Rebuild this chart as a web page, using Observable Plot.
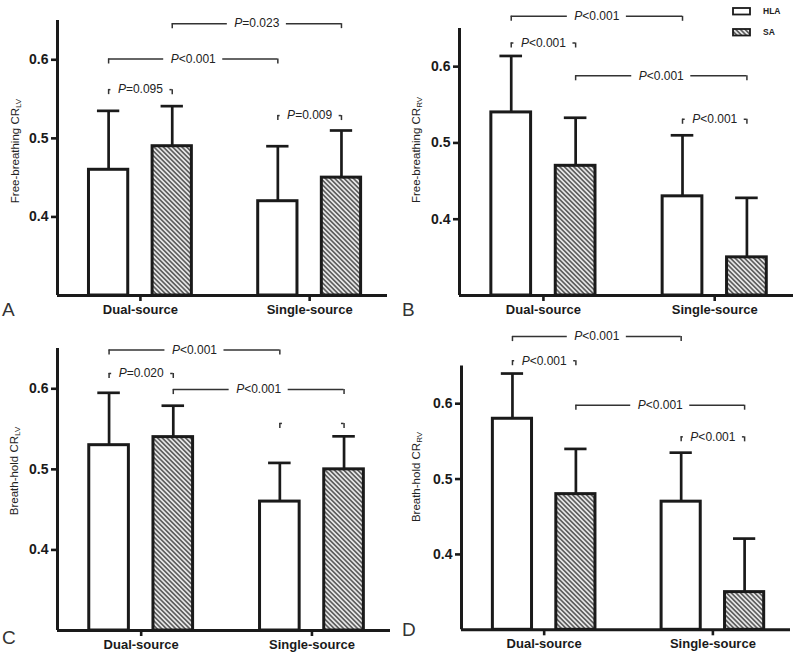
<!DOCTYPE html>
<html>
<head>
<meta charset="utf-8">
<script src="https://cdn.jsdelivr.net/npm/d3@7"></script>
<script src="https://cdn.jsdelivr.net/npm/@observablehq/plot@0.6"></script>
<style>
  html, body { margin: 0; padding: 0; background: #fff; }
  body { font-family: "Liberation Sans", Arial, sans-serif; }
  #root { position: relative; width: 800px; height: 654px; overflow: hidden; background: #fff; }
  .panel { position: absolute; }
  .panel svg { overflow: visible; }
  .ylab { position: absolute; white-space: nowrap; font-size: 11.5px; color: #222; line-height: 1;
          transform: translate(-50%, -50%) rotate(-90deg); }
  .ylab sub { font-size: 8px; vertical-align: -2px; line-height: 0; }
  .letter { position: absolute; font-size: 19px; line-height: 1; color: #333; }
  .leg { position: absolute; font-size: 8.5px; font-weight: bold; color: #222; line-height: 1; }
  .legbox { position: absolute; }
</style>
</head>
<body>
<svg width="0" height="0" style="position:absolute">
  <defs>
    <pattern id="hatch" width="3.3" height="3.3" patternUnits="userSpaceOnUse" patternTransform="rotate(45)">
      <rect width="3.3" height="3.3" fill="#e6e6e6"></rect>
      <line x1="0" y1="1.65" x2="3.3" y2="1.65" stroke="#3a3a3a" stroke-width="1.3"></line>
    </pattern>
  </defs>
</svg>
<div id="root"></div>
<script>
// ---------------- data ----------------
const groups = ["Dual-source", "Single-source"];
const series = ["HLA", "SA"];
const yTicks = [0.4, 0.5, 0.6];
const yDomain = [0.3, 0.65];

// bar order: Dual-source HLA, Dual-source SA, Single-source HLA, Single-source SA
const barGroup = [0, 0, 1, 1];
const barSeries = [0, 1, 0, 1];

const meanA = [0.46, 0.49, 0.42, 0.45];
const upperA = [0.535, 0.541, 0.49, 0.51];
const meanB = [0.54, 0.47, 0.43, 0.35];
const upperB = [0.614, 0.533, 0.51, 0.428];
const meanC = [0.53, 0.54, 0.46, 0.50];
const upperC = [0.595, 0.579, 0.508, 0.541];
const meanD = [0.58, 0.48, 0.47, 0.35];
const upperD = [0.64, 0.54, 0.535, 0.421];

// brackets: [from bar, to bar, level, p-value text after "P"]
const bracketsA = [[0, 1, 0.562, "=0.095"], [0, 2, 0.601, "<0.001"], [1, 3, 0.646, "=0.023"], [2, 3, 0.529, "=0.009"]];
const bracketsB = [[0, 2, 0.666, "<0.001"], [0, 1, 0.631, "<0.001"], [1, 3, 0.588, "<0.001"], [2, 3, 0.531, "<0.001"]];
const bracketsC = [[0, 2, 0.648, "<0.001"], [0, 1, 0.619, "=0.020"], [1, 3, 0.599, "<0.001"], [2, 3, 0.557, null]];
const bracketsD = [[0, 2, 0.689, "<0.001"], [0, 1, 0.657, "<0.001"], [1, 3, 0.598, "<0.001"], [2, 3, 0.556, "<0.001"]];

const yLabelMain = ["Free-breathing CR", "Free-breathing CR", "Breath-hold CR", "Breath-hold CR"];
const yLabelSub = ["LV", "RV", "LV", "RV"];
const panelLetters = ["A", "B", "C", "D"];

// ---------------- layout / style ----------------
const INK = "#1a1a1a";
const FONT = '"Liberation Sans", Arial, sans-serif';
const X_DOMAIN = [-0.49, 1.46];
const OFF = 0.188, HW = 0.116, CAP = 0.066;

const cvs = document.createElement("canvas").getContext("2d");
cvs.font = 'italic 12px "Liberation Sans"';
const wP = cvs.measureText("P").width;
cvs.font = '12px "Liberation Sans"';
const wRest = cvs.measureText("<0.001").width;
const W = wP + wRest;

function panel({mean, upper, brackets, width, height, ml, mr, mt, mb}) {
  const kx = (width - ml - mr) / (X_DOMAIN[1] - X_DOMAIN[0]);
  const ky = (height - mt - mb) / (yDomain[1] - yDomain[0]);
  const pos = i => barGroup[i] + (barSeries[i] === 0 ? -OFF : OFF);
  const bars = mean.map((m, i) => ({s: series[barSeries[i]], x: pos(i), mean: m, upper: upper[i]}));
  const br = brackets.map(([a, b, y, label]) => ({x1: pos(a), x2: pos(b), xc: (pos(a) + pos(b)) / 2, y, label}));
  const gap = (W / 2 + 7) / kx;
  const tick = 5 / ky;
  const segs = br.flatMap(d => [{x1: d.x1, x2: d.xc - gap, y: d.y}, {x1: d.xc + gap, x2: d.x2, y: d.y}]);
  const ends = br.flatMap(d => [{x: d.x1, y: d.y}, {x: d.x2, y: d.y}]);
  const labeled = br.filter(d => d.label);
  const dxT = -W / 2 + wP;
  return Plot.plot({
    width, height, marginLeft: ml, marginRight: mr, marginTop: mt, marginBottom: mb,
    x: {domain: X_DOMAIN},
    y: {domain: yDomain},
    style: {fontFamily: FONT, color: INK, background: "transparent", overflow: "visible"},
    marks: [
      Plot.ruleX(bars, {x: "x", y1: "mean", y2: "upper", stroke: INK, strokeWidth: 2.7}),
      Plot.ruleY(bars, {y: "upper", x1: d => d.x - CAP, x2: d => d.x + CAP, stroke: INK, strokeWidth: 2.7}),
      Plot.rectY(bars.filter(d => d.s === "HLA"), {x1: d => d.x - HW, x2: d => d.x + HW, y1: () => yDomain[0], y2: "mean", fill: "white", stroke: INK, strokeWidth: 3}),
      Plot.rectY(bars.filter(d => d.s === "SA"), {x1: d => d.x - HW, x2: d => d.x + HW, y1: () => yDomain[0], y2: "mean", fill: "url(#hatch)", stroke: INK, strokeWidth: 3}),
      Plot.ruleY(segs, {y: "y", x1: "x1", x2: "x2", stroke: "#333", strokeWidth: 1.5}),
      Plot.ruleX(ends, {x: "x", y1: "y", y2: d => d.y - tick, stroke: "#333", strokeWidth: 1.5}),
      Plot.text(labeled, {x: "xc", y: "y", text: () => "P", fontStyle: "italic", textAnchor: "end", dx: dxT, fontSize: 12, fill: "#222"}),
      Plot.text(labeled, {x: "xc", y: "y", text: "label", textAnchor: "start", dx: dxT, fontSize: 12, fill: "#222"}),
      Plot.ruleX([X_DOMAIN[0]], {stroke: INK, strokeWidth: 3}),
      Plot.ruleY([yDomain[0]], {stroke: INK, strokeWidth: 3}),
      Plot.axisY({ticks: yTicks, tickFormat: d3.format(".1f"), tickSize: 6, tickPadding: 3, strokeWidth: 2.6, fontWeight: "bold", fontSize: 14, label: null}),
      Plot.axisX({ticks: [0, 1], tickFormat: i => groups[i], tickSize: 6, tickPadding: 3, strokeWidth: 2.6, fontWeight: "bold", fontSize: 13, label: null})
    ]
  });
}

const root = document.getElementById("root");
const cfgs = [
  {left: 0,   top: 0,   mean: meanA, upper: upperA, brackets: bracketsA, width: 400, height: 320, ml: 57, mr: 13, mt: 20, mb: 25, lab: [16, 151], let: [2, 300]},
  {left: 400, top: 0,   mean: meanB, upper: upperB, brackets: bracketsB, width: 400, height: 320, ml: 59, mr: 7,  mt: 28, mb: 25, lab: [417, 150], let: [402, 300]},
  {left: 0,   top: 320, mean: meanC, upper: upperC, brackets: bracketsC, width: 400, height: 334, ml: 57, mr: 10, mt: 28, mb: 24, lab: [15, 471], let: [2, 628]},
  {left: 400, top: 320, mean: meanD, upper: upperD, brackets: bracketsD, width: 400, height: 334, ml: 61, mr: 10, mt: 45.5, mb: 24.7, lab: [417, 477], let: [402, 620]}
];

cfgs.forEach((c, k) => {
  const div = document.createElement("div");
  div.className = "panel";
  div.style.left = c.left + "px";
  div.style.top = c.top + "px";
  div.appendChild(panel(c));
  root.appendChild(div);

  const yl = document.createElement("div");
  yl.className = "ylab";
  yl.style.left = c.lab[0] + "px";
  yl.style.top = c.lab[1] + "px";
  yl.appendChild(document.createTextNode(yLabelMain[k]));
  const sub = document.createElement("sub");
  sub.textContent = yLabelSub[k];
  yl.appendChild(sub);
  root.appendChild(yl);

  const lt = document.createElement("div");
  lt.className = "letter";
  lt.style.left = c.let[0] + "px";
  lt.style.top = c.let[1] + "px";
  lt.textContent = panelLetters[k];
  root.appendChild(lt);
});

// legend (top right of panel B)
series.forEach((s, i) => {
  const y = 8 + i * 21;
  const box = document.createElementNS("http://www.w3.org/2000/svg", "svg");
  box.setAttribute("class", "legbox");
  box.setAttribute("width", 20);
  box.setAttribute("height", 9);
  box.style.left = "732px";
  box.style.top = (y - 1) + "px";
  box.style.position = "absolute";
  const r = document.createElementNS("http://www.w3.org/2000/svg", "rect");
  r.setAttribute("x", 1); r.setAttribute("y", 1); r.setAttribute("width", 17); r.setAttribute("height", 6.5);
  r.setAttribute("fill", i === 0 ? "white" : "url(#hatch)");
  r.setAttribute("stroke", INK); r.setAttribute("stroke-width", 1.8);
  box.appendChild(r);
  root.appendChild(box);
  const t = document.createElement("div");
  t.className = "leg";
  t.style.left = "763px";
  t.style.top = (y - 1) + "px";
  t.textContent = s;
  root.appendChild(t);
});
</script>
</body>
</html>
